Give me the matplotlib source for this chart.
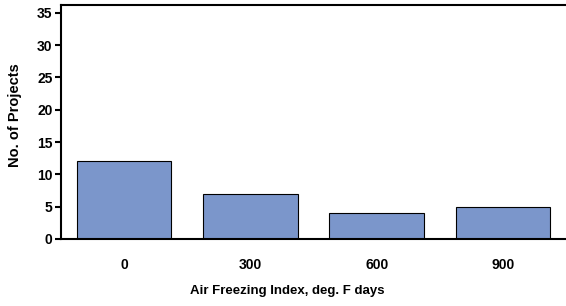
import matplotlib
matplotlib.use("Agg")
import matplotlib.pyplot as plt

categories = ["0", "300", "600", "900"]
projects = [12, 7, 4, 5]
yticks = [0, 5, 10, 15, 20, 25, 30, 35]

plt.rcParams['font.family'] = ['Liberation Sans', 'DejaVu Sans']

W, H = 566, 306
fig = plt.figure(figsize=(W/100, H/100), dpi=100)
ax = fig.add_axes([61/W, 1-239/H, 1-61/W, 234/H])
x = range(len(categories))
ax.bar(x, projects, width=0.75, color='#7b96cb', edgecolor='black', linewidth=0.8)
ax.set_xlim(-0.5, 3.5)
ax.set_ylim(0, 36.2)
ax.set_yticks(yticks)
ax.set_xticks(list(x))
ax.set_xticklabels(categories)
ax.spines['right'].set_visible(False)
for s in ['left', 'bottom', 'top']:
    ax.spines[s].set_linewidth(1.5)
ax.tick_params(axis='x', length=0, pad=14, labelsize=10)
ax.tick_params(axis='y', length=4, width=1.5, direction='out', labelsize=10, pad=2)
for lab in ax.get_xticklabels() + ax.get_yticklabels():
    lab.set_fontweight('bold')
fig.text(287/W, 1-291/H, "Air Freezing Index, deg. F days", fontsize=9.5,
         fontweight='bold', ha='center', va='center')
fig.text(15.5/W, 1-115/H, "No. of Projects", fontsize=10.5, fontweight='bold',
         rotation=90, ha='center', va='center')
fig.savefig("out.png", dpi=100)
